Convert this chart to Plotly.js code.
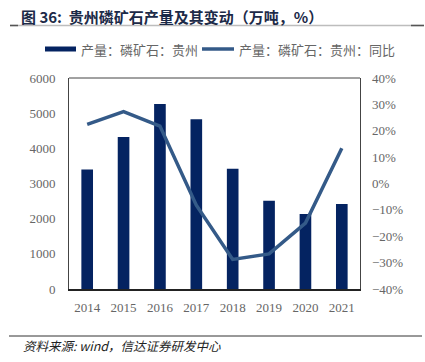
<!DOCTYPE html>
<html>
<head>
<meta charset="utf-8">
<script src="https://cdn.plot.ly/plotly-3.0.1.min.js"></script>
<style>html,body{margin:0;padding:0;background:#fff;}#chart{width:425px;height:362px;}</style>
</head>
<body>
<div id="chart"></div>
<script>
const years = ['2014','2015','2016','2017','2018','2019','2020','2021'];
const output = [3400, 4320, 5260, 4825, 3420, 2510, 2135, 2415];
const yoy = [22.4, 27.3, 21.8, -8.2, -28.8, -26.7, -15.0, 13.4];
const titleText = '图 36:  贵州磷矿石产量及其变动（万吨，%）';
const legendBar = '产量：磷矿石：贵州';
const legendLine = '产量：磷矿石：贵州：同比';
const sourceText = '资料来源: wind，信达证券研发中心';

const W = 425, H = 362, L = 69, R = 65, T = 78, B = 73;
const pw = W - L - R, ph = H - T - B;
const px = x => (x - L) / pw;
const py = y => (H - B - y) / ph;

const barColor = '#042361';
const lineColor = '#345a88';
const tickFont = {family: '"Liberation Serif", "DejaVu Serif", serif', size: 13, color: '#666'};
const cjk = '"Noto Sans CJK SC", "Noto Sans", sans-serif';

const traces = [
  {type: 'bar', x: years, y: output, width: 0.32, marker: {color: barColor}, name: legendBar, hoverinfo: 'skip'},
  {type: 'scatter', mode: 'lines', x: years, y: yoy, yaxis: 'y2', line: {color: lineColor, width: 3.5}, name: legendLine, hoverinfo: 'skip'}
];

const layout = {
  width: W, height: H,
  margin: {l: L, r: R, t: T, b: B},
  paper_bgcolor: '#fff', plot_bgcolor: '#fff',
  showlegend: false,
  xaxis: {type: 'category', showline: true, linecolor: '#222', linewidth: 2, ticks: '', tickfont: tickFont, showgrid: false, zeroline: false, ticklabelstandoff: 5},
  yaxis: {range: [0, 6000], dtick: 1000, showline: true, mirror: true, linecolor: '#444', linewidth: 1, ticks: '', tickfont: tickFont, showgrid: false, zeroline: false, ticklabelstandoff: 10, tickformat: 'd'},
  yaxis2: {range: [-40, 40], dtick: 10, overlaying: 'y', side: 'right', ticksuffix: '%', ticks: '', tickfont: tickFont, showgrid: false, zeroline: false, showline: false, ticklabelstandoff: 11},
  shapes: [
    {type: 'line', xref: 'paper', yref: 'paper', x0: 0, x1: 1, y0: 1, y1: 1, line: {color: '#444', width: 1}},
    {type: 'line', xref: 'paper', yref: 'paper', x0: px(10), x1: px(424), y0: py(25.5), y1: py(25.5), line: {color: '#bdbdbd', width: 1.5}},
    {type: 'line', xref: 'paper', yref: 'paper', x0: px(10), x1: px(18), y0: py(25.5), y1: py(25.5), line: {color: '#555', width: 1.5}},
    {type: 'line', xref: 'paper', yref: 'paper', x0: px(411), x1: px(424), y0: py(25.5), y1: py(25.5), line: {color: '#555', width: 1.5}},
    {type: 'line', xref: 'paper', yref: 'paper', x0: px(45), x1: px(76), y0: py(49), y1: py(49), line: {color: barColor, width: 5}},
    {type: 'line', xref: 'paper', yref: 'paper', x0: px(202), x1: px(234), y0: py(49), y1: py(49), line: {color: lineColor, width: 3.5}},
    {type: 'line', xref: 'paper', yref: 'paper', x0: px(9), x1: px(422), y0: py(336), y1: py(336), line: {color: '#333', width: 1}}
  ],
  annotations: [
    {xref: 'paper', yref: 'paper', x: px(19), y: py(16), xanchor: 'left', yanchor: 'middle', showarrow: false, text: '<b>' + titleText + '</b>', font: {family: cjk, size: 15, color: '#1c2a48'}},
    {xref: 'paper', yref: 'paper', x: px(79), y: py(49), xanchor: 'left', yanchor: 'middle', showarrow: false, text: legendBar, font: {family: cjk, size: 13, color: '#666'}},
    {xref: 'paper', yref: 'paper', x: px(237), y: py(49), xanchor: 'left', yanchor: 'middle', showarrow: false, text: legendLine, font: {family: cjk, size: 13, color: '#666'}},
    {xref: 'paper', yref: 'paper', x: px(21), y: py(345), xanchor: 'left', yanchor: 'middle', showarrow: false, text: '<i>' + sourceText + '</i>', font: {family: cjk, size: 12.5, color: '#222'}}
  ]
};

Plotly.newPlot('chart', traces, layout, {staticPlot: true, displayModeBar: false});
</script>
</body>
</html>
